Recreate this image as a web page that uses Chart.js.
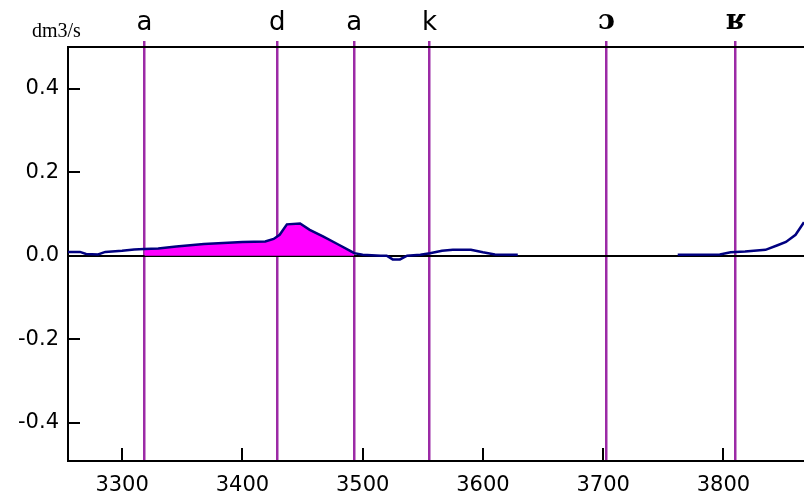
<!DOCTYPE html>
<html lang="en">
<head>
    <meta charset="UTF-8">
    <title>dm3/s</title>
    <script src="https://cdn.jsdelivr.net/npm/chart.js"></script>
    <style>
        body { margin: 0; background: #fff; }
        #chart { display: block; }
    </style>
</head>
<body>
    <canvas id="chart" width="804" height="497"></canvas>

    <script>
        // curve (null = no data)
        const curveX = [3255, 3265, 3270, 3280, 3286, 3300, 3310, 3318.5, 3330, 3345, 3368, 3400, 3419, 3426, 3431, 3437, 3448, 3456, 3467, 3479, 3490, 3493, 3500, 3515, 3520, 3525, 3531, 3537, 3548, 3556, 3566, 3575, 3590, 3600, 3610, 3629, 3700, 3762, 3797, 3806, 3818, 3835, 3845, 3852, 3860, 3867];
        const curveY = [0.009, 0.009, 0.004, 0.003, 0.009, 0.012, 0.015, 0.016, 0.017, 0.022, 0.028, 0.033, 0.034, 0.040, 0.050, 0.075, 0.077, 0.062, 0.046, 0.028, 0.011, 0.006, 0.002, 0.000, 0.000, -0.009, -0.009, 0.000, 0.002, 0.006, 0.012, 0.014, 0.014, 0.008, 0.003, 0.002, null, 0.002, 0.003, 0.008, 0.010, 0.014, 0.025, 0.033, 0.050, 0.080];

        const markerX = [3318.5, 3429, 3493, 3555.6, 3702.7, 3810];
        const markerLabels = ['a', 'd', 'a', 'k', 'ɔ', 'ʁ'];

        const xTicks = [3300, 3400, 3500, 3600, 3700, 3800];
        const yTicks = [-0.4, -0.2, 0.0, 0.2, 0.4];
        const xMin = 3255, xMax = 3867;
        const yMin = -0.492, yMax = 0.5;

        const fillFrom = markerX[0], fillTo = markerX[2];

        const curve = curveX.map((x, i) => ({x: x, y: curveY[i]}));
        const filled = curve.filter(p => p.x >= fillFrom && p.x <= fillTo);

        const inwardTicks = {
            id: 'inwardTicks',
            afterDatasetsDraw(chart) {
                const {ctx, chartArea, scales} = chart;
                ctx.save();
                ctx.strokeStyle = '#000';
                ctx.lineWidth = 2;
                ctx.beginPath();
                xTicks.forEach(v => {
                    const px = Math.round(scales.x.getPixelForValue(v));
                    ctx.moveTo(px, chartArea.bottom);
                    ctx.lineTo(px, chartArea.bottom - 13);
                });
                yTicks.forEach(v => {
                    const py = Math.round(scales.y.getPixelForValue(v));
                    ctx.moveTo(chartArea.left, py);
                    ctx.lineTo(chartArea.left + 12, py);
                });
                ctx.stroke();
                ctx.fillStyle = '#000';
                ctx.font = '20px "Liberation Serif"';
                ctx.textBaseline = 'alphabetic';
                ctx.fillText('dm3/s', 32, 37);
                ctx.restore();
            }
        };

        const tickFont = {family: '"DejaVu Sans"', size: 21};

        new Chart(document.getElementById('chart'), {
            type: 'line',
            data: {
                datasets: [{
                    data: curve,
                    borderColor: '#000080',
                    borderWidth: 2.5,
                    pointRadius: 0,
                    tension: 0,
                    spanGaps: false,
                    fill: false,
                    order: 0
                }, {
                    data: filled,
                    borderWidth: 0,
                    borderColor: 'transparent',
                    backgroundColor: '#ff00ff',
                    pointRadius: 0,
                    tension: 0,
                    fill: 'origin',
                    order: 1
                }]
            },
            options: {
                responsive: false,
                animation: false,
                layout: { padding: 0 },
                plugins: {
                    legend: { display: false },
                    tooltip: { enabled: false }
                },
                scales: {
                    x: {
                        type: 'linear',
                        position: 'bottom',
                        min: xMin,
                        max: xMax,
                        afterBuildTicks: s => { s.ticks = xTicks.map(v => ({value: v})); },
                        afterFit: s => { s.height = 36; },
                        ticks: {
                            color: '#000', font: tickFont, padding: 12, maxRotation: 0, autoSkip: false,
                            callback: v => String(v)
                        },
                        grid: { color: 'transparent', drawTicks: false },
                        border: { color: '#000', width: 2 }
                    },
                    x2: {
                        type: 'linear',
                        position: 'top',
                        min: xMin,
                        max: xMax,
                        z: 1,
                        afterBuildTicks: s => { s.ticks = markerX.map(v => ({value: v})); },
                        afterFit: s => { s.height = 47; },
                        ticks: {
                            color: '#000',
                            padding: 2,
                            maxRotation: 0,
                            autoSkip: false,
                            callback: (v, i) => markerLabels[i],
                            font: c => c.index >= 4
                                ? {family: '"DejaVu Serif"', size: 28, weight: 'bold'}
                                : {family: '"DejaVu Sans"', size: 26}
                        },
                        grid: { color: '#9c2aa6', lineWidth: 2.5, drawTicks: true, tickLength: 6 },
                        border: { color: '#000', width: 2 }
                    },
                    y: {
                        min: yMin,
                        max: yMax,
                        afterBuildTicks: s => { s.ticks = yTicks.map(v => ({value: v})); },
                        afterFit: s => { s.width = 68; },
                        ticks: { color: '#000', font: tickFont, padding: 9, callback: v => v.toFixed(1) },
                        grid: {
                            color: c => (c.tick && c.tick.value === 0) ? '#000' : 'transparent',
                            lineWidth: 2,
                            drawTicks: false
                        },
                        border: { color: '#000', width: 2 }
                    }
                }
            },
            plugins: [inwardTicks]
        });
    </script>
</body>
</html>
